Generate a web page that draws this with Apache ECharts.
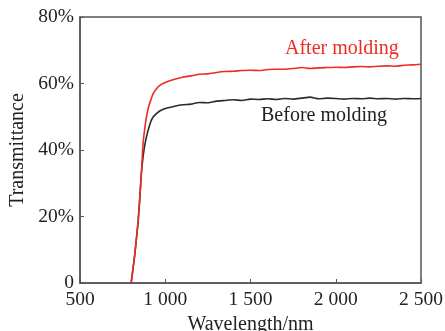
<!DOCTYPE html>
<html>
<head>
<meta charset="utf-8">
<script src="https://cdn.jsdelivr.net/npm/echarts@6/dist/echarts.min.js"></script>
<style>
  html, body { margin: 0; padding: 0; background: #fff; }
  #chart { width: 445px; height: 331px; }
</style>
</head>
<body>
<div id="chart"></div>
<script>
// wavelength (nm) and transmittance (%)
const beforeWl = [800, 820, 840, 850, 860, 870, 880, 890, 900, 915, 930, 950, 970,
  1000, 1050, 1100, 1150, 1200, 1250, 1300, 1350, 1400, 1450, 1500, 1550, 1600, 1650,
  1700, 1750, 1800, 1850, 1900, 1950, 2000, 2050, 2100, 2150, 2200, 2250, 2300, 2350,
  2400, 2450, 2500];
const beforeT = [0, 8, 18, 25, 33, 38, 41.5, 44, 46, 48.5, 50, 51, 51.8,
  52.5, 53.1, 53.6, 53.8, 54.3, 54.2, 54.7, 54.9, 55.1, 54.9, 55.3, 55.2, 55.4, 55.2,
  55.5, 55.3, 55.6, 55.9, 55.4, 55.6, 55.5, 55.3, 55.5, 55.4, 55.6, 55.4, 55.5, 55.3,
  55.5, 55.4, 55.5];

const afterWl = [800, 820, 840, 850, 860, 870, 880, 890, 900, 915, 930, 950, 970,
  1000, 1050, 1100, 1150, 1200, 1250, 1300, 1350, 1400, 1450, 1500, 1550, 1600, 1650,
  1700, 1750, 1800, 1850, 1900, 1950, 2000, 2050, 2100, 2150, 2200, 2250, 2300, 2350,
  2400, 2450, 2500];
const afterT = [0, 8, 18, 25, 33, 42, 46.5, 50, 52.5, 55, 57, 58.5, 59.5,
  60.3, 61.2, 61.9, 62.3, 62.8, 62.9, 63.3, 63.6, 63.7, 63.9, 64.0, 63.9, 64.2, 64.3,
  64.3, 64.5, 64.8, 64.5, 64.7, 64.8, 64.9, 64.8, 65.0, 65.1, 65.0, 65.2, 65.3, 65.2,
  65.5, 65.6, 65.8];

const xTicks = ['500', '1 000', '1 500', '2 000', '2 500'];
const yTicks = ['0', '20%', '40%', '60%', '80%'];

const FONT = '"Liberation Serif", "Times New Roman", serif';

const chart = echarts.init(document.getElementById('chart'));

const zip = (a, b) => a.map((v, i) => [v, b[i]]);

chart.setOption({
  animation: false,
  grid: {
    left: 80, right: 24, top: 17, bottom: 48,
    outerBoundsMode: 'none',
    show: true,
    borderColor: '#555',
    borderWidth: 1.5
  },
  xAxis: {
    type: 'value',
    min: 500, max: 2500, interval: 500,
    name: 'Wavelength/nm',
    nameLocation: 'middle',
    nameGap: 32,
    nameTextStyle: { fontFamily: FONT, fontSize: 20, color: '#222' },
    axisLine: { lineStyle: { color: '#555', width: 1.5 } },
    axisTick: { inside: true, length: 4, lineStyle: { color: '#555' } },
    axisLabel: {
      fontFamily: FONT, fontSize: 19.5, color: '#222', margin: 7,
      formatter: (v) => xTicks[(v - 500) / 500]
    },
    splitLine: { show: false }
  },
  yAxis: {
    type: 'value',
    min: 0, max: 80, interval: 20,
    name: 'Transmittance',
    nameLocation: 'middle',
    nameGap: 50,
    nameTextStyle: { fontFamily: FONT, fontSize: 20, color: '#222' },
    axisLine: { show: true, lineStyle: { color: '#555', width: 1.5 } },
    axisTick: { show: true, inside: true, length: 4, lineStyle: { color: '#555' } },
    axisLabel: {
      fontFamily: FONT, fontSize: 19.5, color: '#222', margin: 6,
      formatter: (v) => yTicks[v / 20]
    },
    splitLine: { show: false }
  },
  series: [
    {
      name: 'Before molding',
      type: 'line',
      data: zip(beforeWl, beforeT),
      showSymbol: false,
      smooth: 0.2,
      lineStyle: { color: '#2b2b2b', width: 1.6 },
      z: 2
    },
    {
      name: 'After molding',
      type: 'line',
      data: zip(afterWl, afterT),
      showSymbol: false,
      smooth: 0.2,
      lineStyle: { color: '#ee2b24', width: 1.6 },
      z: 3
    }
  ],
  graphic: [
    {
      type: 'text', left: 285, top: 39,
      style: { text: 'After molding', fontFamily: FONT, fontSize: 20, fill: '#ee2b24' }
    },
    {
      type: 'text', left: 261, top: 106,
      style: { text: 'Before molding', fontFamily: FONT, fontSize: 20, fill: '#222' }
    }
  ]
});
</script>
</body>
</html>
